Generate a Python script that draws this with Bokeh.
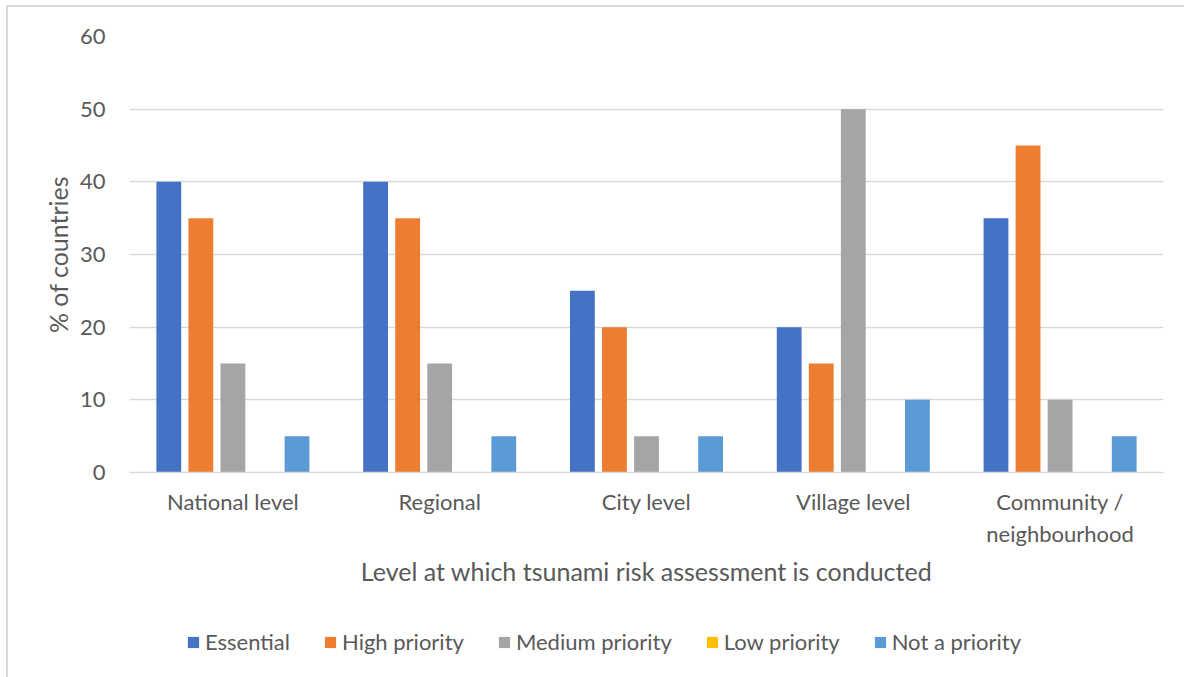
from bokeh.plotting import figure
from bokeh.layouts import column
from bokeh.models import ColumnDataSource, FixedTicker, Legend, LegendItem
from bokeh.embed import file_html
from bokeh.resources import INLINE

# Survey results: share of countries by priority level for each assessment level
categories = ["National level", "Regional", "City level", "Village level", "Community /\nneighbourhood"]
series = ["Essential", "High priority", "Medium priority", "Low priority", "Not a priority"]
essential = [40, 40, 25, 20, 35]
high_priority = [35, 35, 20, 15, 45]
medium_priority = [15, 15, 5, 50, 10]
low_priority = [0, 0, 0, 0, 0]
not_a_priority = [5, 5, 5, 10, 5]
colors = ["#4472C4", "#ED7D31", "#A5A5A5", "#FFC000", "#5B9BD5"]
y_ticks = [0, 10, 20, 30, 40, 50, 60]

values = [essential, high_priority, medium_priority, low_priority, not_a_priority]

FONT = "Lato"
TXT = "#595959"
GRID = "#D9D9D9"

p = figure(width=1177, height=600, output_backend="svg", toolbar_location=None,
           x_range=(-0.5, len(categories) - 0.5), y_range=(0, 60),
           min_border_left=121, min_border_right=22, min_border_top=29, min_border_bottom=135)
p.outline_line_color = None
p.background_fill_color = "white"
p.border_fill_color = "white"

slot = 0.155
bar_w = 0.12
for j, (name, vals, col) in enumerate(zip(series, values, colors)):
    off = (j - 2) * slot
    src = ColumnDataSource(dict(x=[i + off for i in range(len(categories))], top=vals))
    p.vbar(x="x", top="top", width=bar_w, bottom=0, source=src,
           fill_color=col, line_color=None)

# y axis
p.yaxis.ticker = FixedTicker(ticks=y_ticks)
p.yaxis.axis_line_color = None
p.yaxis.major_tick_line_color = None
p.yaxis.minor_tick_line_color = None
p.yaxis.major_label_standoff = 18
p.yaxis.major_label_text_font = FONT
p.yaxis.major_label_text_font_size = "22px"
p.yaxis.major_label_text_color = TXT
p.yaxis.axis_label = "% of countries"
p.yaxis.axis_label_text_font = FONT
p.yaxis.axis_label_text_font_size = "25px"
p.yaxis.axis_label_text_font_style = "normal"
p.yaxis.axis_label_text_color = TXT
p.yaxis.axis_label_standoff = 4

# x axis
p.xaxis.ticker = FixedTicker(ticks=list(range(len(categories))))
p.xaxis.major_label_overrides = {i: c for i, c in enumerate(categories)}
p.xaxis.axis_line_color = GRID
p.xaxis.axis_line_width = 1.5
p.xaxis.major_tick_line_color = None
p.xaxis.minor_tick_line_color = None
p.xaxis.major_label_standoff = 9
p.xaxis.major_label_text_font = FONT
p.xaxis.major_label_text_font_size = "22px"
p.xaxis.major_label_text_color = TXT
p.xaxis.axis_label = "Level at which tsunami risk assessment is conducted"
p.xaxis.axis_label_text_font = FONT
p.xaxis.axis_label_text_font_size = "25px"
p.xaxis.axis_label_text_font_style = "normal"
p.xaxis.axis_label_text_color = TXT
p.xaxis.axis_label_standoff = 6

p.xgrid.grid_line_color = None
p.ygrid.ticker = FixedTicker(ticks=y_ticks)
p.ygrid.grid_line_color = GRID
p.ygrid.grid_line_width = 1.5

# legend strip below the chart; its swatch renderers are zero-height bars
lg = figure(width=1177, height=70, output_backend="svg", toolbar_location=None,
            x_range=(0, 1), y_range=(0, 1), x_axis_location=None, y_axis_location=None,
            min_border_left=121, min_border_right=22, min_border_top=0, min_border_bottom=0)
lg.grid.grid_line_color = None
lg.outline_line_color = None
items = []
for name, col in zip(series, colors):
    r = lg.vbar(x=[0.5], top=[0], bottom=[0], width=0.01, fill_color=col, line_color=None)
    items.append(LegendItem(label=name, renderers=[r]))
legend = Legend(items=items, orientation="horizontal", location=(57, 22),
                label_text_font=FONT, label_text_font_size="22px", label_text_color=TXT,
                glyph_width=14, glyph_height=14, label_standoff=5, spacing=33,
                border_line_color=None, background_fill_alpha=0, padding=0, margin=0)
lg.add_layout(legend, "center")

layout = column(p, lg, spacing=0)
layout.styles = {"margin-left": "6px", "margin-top": "5px",
                 "border-left": "2px solid #D9D9D9", "border-top": "2px solid #D9D9D9"}

open("out.html", "w").write(file_html(layout, INLINE))
